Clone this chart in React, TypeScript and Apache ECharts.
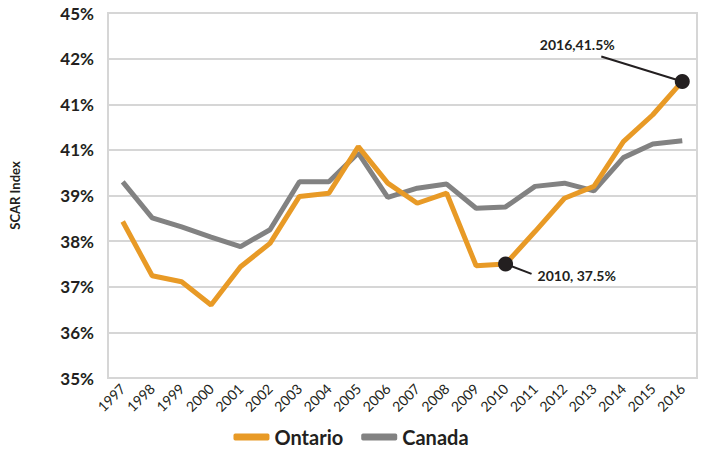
import React, { useEffect, useRef } from 'react';
import * as echarts from 'echarts';

const years = ['1997','1998','1999','2000','2001','2002','2003','2004','2005','2006','2007','2008','2009','2010','2011','2012','2013','2014','2015','2016'];
const ontario = [38.43,37.24,37.11,36.6,37.44,37.95,38.98,39.05,40.07,39.27,38.83,39.05,37.46,37.5,38.21,38.94,39.2,40.18,40.77,41.5];
const canada = [39.3,38.51,38.31,38.09,37.88,38.25,39.3,39.3,39.93,38.96,39.16,39.25,38.72,38.75,39.2,39.27,39.1,39.83,40.13,40.2];
const yTickLabels = ['35%','36%','37%','38%','39%','41%','41%','42%','45%'];
const highlightYears = ['2010','2016'];
const highlightTexts = ['2010, 37.5%','2016,41.5%'];

const FONT = 'Lato, "Open Sans", sans-serif';
const ORANGE = '#E89A26';
const GREY = '#828282';
const DARK = '#231F20';

export default function App() {
  const ref = useRef<HTMLDivElement>(null);
  useEffect(() => {
    if (!ref.current) return;
    const chart = echarts.init(ref.current, null, { renderer: 'svg' });
    const hlData = highlightYears.map((y) => {
      const i = years.indexOf(y);
      return [y, ontario[i]];
    });
    chart.setOption({
      animation: false,
      textStyle: { fontFamily: FONT },
      grid: { left: 107, right: 5, top: 13, bottom: 73, show: true, borderColor: '#d6d6d6', borderWidth: 2 },
      legend: {
        top: 425,
        left: 'center',
        icon: 'roundRect',
        itemWidth: 36,
        itemHeight: 7,
        itemGap: 18,
        padding: 0,
        data: ['Ontario', 'Canada'],
        textStyle: { fontSize: 20, fontWeight: 'bold', color: DARK, fontFamily: FONT, lineHeight: 24 },
      },
      xAxis: {
        type: 'category',
        data: years,
        boundaryGap: true,
        axisLine: { show: false },
        axisTick: { show: false },
        axisLabel: { rotate: 45, fontSize: 14, color: DARK, margin: 8, interval: 0, fontFamily: FONT },
      },
      yAxis: {
        type: 'value',
        min: 35,
        max: 43,
        interval: 1,
        name: 'SCAR Index',
        nameLocation: 'middle',
        nameRotate: 90,
        nameGap: 87,
        nameTextStyle: { fontSize: 13, fontWeight: 'bold', color: DARK, fontFamily: FONT },
        axisLine: { show: false },
        axisTick: { show: false },
        splitLine: { lineStyle: { color: '#d6d6d6', width: 2 } },
        axisLabel: {
          fontSize: 17,
          fontWeight: 'bold',
          color: DARK,
          margin: 14,
          fontFamily: FONT,
          formatter: (v: number) => yTickLabels[Math.round(v - 35)],
        },
      },
      series: [
        {
          name: 'Canada', type: 'line', data: canada, symbol: 'none',
          lineStyle: { color: GREY, width: 5 }, itemStyle: { color: GREY }, z: 2,
        },
        {
          name: 'Ontario', type: 'line', data: ontario, symbol: 'none',
          lineStyle: { color: ORANGE, width: 5 }, itemStyle: { color: ORANGE }, z: 3,
        },
        {
          name: 'hl', type: 'scatter', data: hlData, symbol: 'circle', symbolSize: 15,
          itemStyle: { color: DARK, opacity: 1 }, z: 10,
        },
      ],
    });
    const p1 = chart.convertToPixel({ gridIndex: 0 }, hlData[0]) as number[];
    const p2 = chart.convertToPixel({ gridIndex: 0 }, hlData[1]) as number[];
    chart.setOption({
      graphic: [
        { type: 'line', z: 5, shape: { x1: p1[0], y1: p1[1], x2: p1[0] + 26, y2: p1[1] + 10 }, style: { stroke: DARK, lineWidth: 2 } },
        { type: 'text', z: 5, x: p1[0] + 32, y: p1[1] + 12, style: { text: highlightTexts[0], fill: DARK, font: `bold 14px ${FONT}`, align: 'left', verticalAlign: 'middle' } },
        { type: 'line', z: 5, shape: { x1: p2[0], y1: p2[1], x2: p2[0] - 81, y2: p2[1] - 25 }, style: { stroke: DARK, lineWidth: 2 } },
        { type: 'text', z: 5, x: p2[0] - 105, y: p2[1] - 37, style: { text: highlightTexts[1], fill: DARK, font: `bold 14px ${FONT}`, align: 'center', verticalAlign: 'middle' } },
      ],
    });
    return () => chart.dispose();
  }, []);
  return <div ref={ref} style={{ position: 'absolute', left: 0, top: 0, width: 702, height: 451 }} />;
}
